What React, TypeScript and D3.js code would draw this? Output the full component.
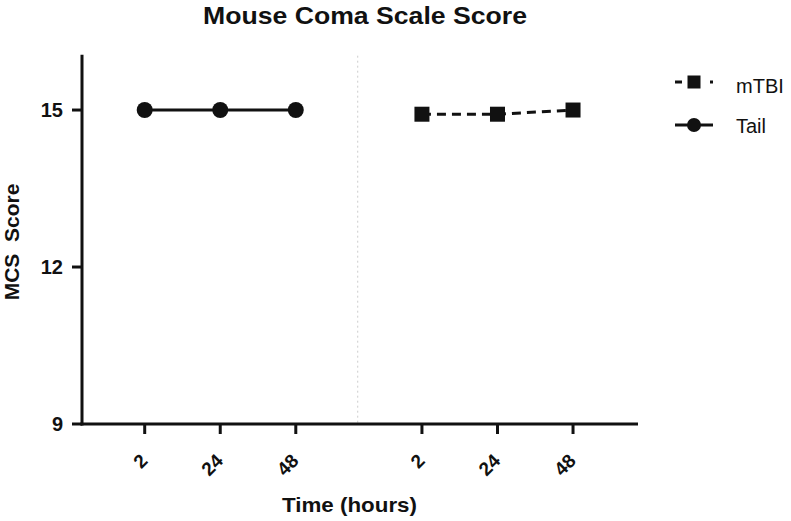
import React from "react";
import * as d3 from "d3";

const categories = ["2", "24", "48", "2", "24", "48"];
const groups = ["Tail", "Tail", "Tail", "mTBI", "mTBI", "mTBI"];
const tailValues = [15, 15, 15];
const mtbiValues = [14.92, 14.92, 15];
const yTicks = [9, 12, 15];
const title = "Mouse Coma Scale Score";
const xTitle = "Time (hours)";
const yTitle = "MCS  Score";

const W = 791;
const H = 521;
const FONT = "'Liberation Sans', Arial, Helvetica, sans-serif";

export default function App() {
  const pos = categories.map((_, i) => (groups[i] === "Tail" ? i : i + 0.67));
  const x = d3.scaleLinear().domain([-0.83, 6.53]).range([82, 638]);
  const y = d3.scaleLinear().domain([9, 16]).range([424, 57.7]);
  const sepX = x(2.82);

  const tailPts: [number, number][] = tailValues.map((v, i) => [x(pos[i]), y(v)]);
  const mtbiPts: [number, number][] = mtbiValues.map((v, i) => [x(pos[i + 3]), y(v)]);
  const line = d3.line();

  const sq = 15;
  const r = 8;

  return (
    <svg width={W} height={H} style={{ position: "absolute", left: 0, top: 0, background: "#fff" }}>
      <text x={365} y={24} textAnchor="middle" fontFamily={FONT} fontWeight="bold" fontSize={24} fill="#111"
        textLength={324} lengthAdjust="spacingAndGlyphs">
        {title}
      </text>
      {/* separator */}
      <line x1={sepX} x2={sepX} y1={y(16) - 2} y2={y(9)} stroke="#ccc" strokeWidth={1} strokeDasharray="2,3" />
      {/* axes */}
      <line x1={x.range()[0]} x2={x.range()[0]} y1={y(16) - 3} y2={y(9) + 1.5} stroke="#111" strokeWidth={3} />
      <line x1={x.range()[0] - 1.5} x2={x.range()[1]} y1={y(9)} y2={y(9)} stroke="#111" strokeWidth={3} />
      {yTicks.map((t) => (
        <g key={t}>
          <line x1={x.range()[0] - 10} x2={x.range()[0]} y1={y(t)} y2={y(t)} stroke="#111" strokeWidth={3} />
          <text x={63} y={y(t)} dy="0.37em" textAnchor="end" fontFamily={FONT} fontWeight="bold" fontSize={20} fill="#111">
            {t}
          </text>
        </g>
      ))}
      {categories.map((c, i) => (
        <g key={i}>
          <line x1={x(pos[i])} x2={x(pos[i])} y1={y(9)} y2={y(9) + 10} stroke="#111" strokeWidth={3} />
          <text
            transform={`translate(${x(pos[i]) + 4},${y(9) + 38}) rotate(-45)`}
            textAnchor="end"
            fontFamily={FONT}
            fontWeight="bold"
            fontSize={19}
            fill="#111"
          >
            {c}
          </text>
        </g>
      ))}
      <text x={349.5} y={512} textAnchor="middle" fontFamily={FONT} fontWeight="bold" fontSize={21} fill="#111"
        textLength={135} lengthAdjust="spacingAndGlyphs">
        {xTitle}
      </text>
      <text
        transform={`translate(19,242) rotate(-90)`}
        textAnchor="middle"
        fontFamily={FONT}
        fontWeight="bold"
        fontSize={21}
        fill="#111"
        style={{ whiteSpace: "pre" }}
      >
        {yTitle}
      </text>
      {/* Tail series */}
      <path d={line(tailPts) || ""} fill="none" stroke="#111" strokeWidth={3} />
      {tailPts.map((p, i) => (
        <circle key={i} cx={p[0]} cy={p[1]} r={r} fill="#111" />
      ))}
      {/* mTBI series */}
      <path d={line(mtbiPts) || ""} fill="none" stroke="#111" strokeWidth={3} strokeDasharray="9,6" />
      {mtbiPts.map((p, i) => (
        <rect key={i} x={p[0] - sq / 2} y={p[1] - sq / 2} width={sq} height={sq} fill="#111" />
      ))}
      {/* legend */}
      <g>
        <line x1={675} x2={713} y1={82} y2={82} stroke="#111" strokeWidth={3} strokeDasharray="7,28,3" />
        <rect x={694 - 6.5} y={82 - 6.5} width={13} height={13} fill="#111" />
        <text x={736} y={93} fontFamily={FONT} fontSize={20} fill="#111">
          mTBI
        </text>
        <line x1={675} x2={713} y1={125} y2={125} stroke="#111" strokeWidth={3} />
        <circle cx={694} cy={125} r={7} fill="#111" />
        <text x={736} y={133} fontFamily={FONT} fontSize={20} fill="#111">
          Tail
        </text>
      </g>
    </svg>
  );
}
